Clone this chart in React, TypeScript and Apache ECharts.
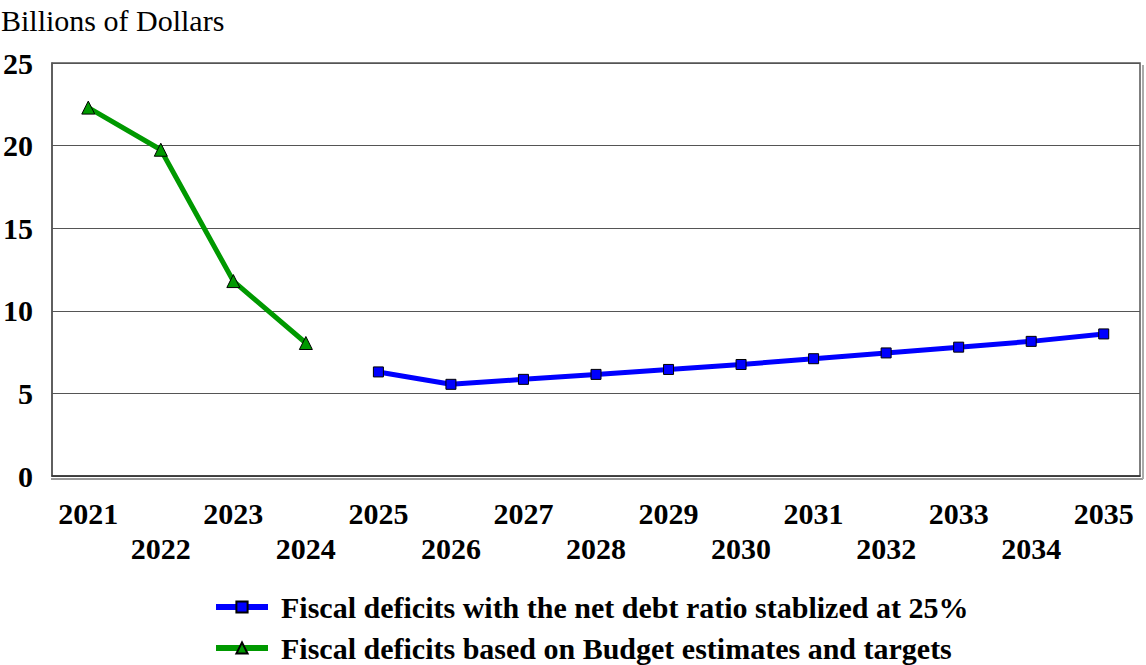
import React, { useEffect, useRef } from "react";
import * as echarts from "echarts";

const years = ["2021","2022","2023","2024","2025","2026","2027","2028","2029","2030","2031","2032","2033","2034","2035"];
const stabilized = [null, null, null, null, 6.3, 5.55, 5.85, 6.15, 6.45, 6.75, 7.1, 7.45, 7.8, 8.15, 8.6];
const budget = [22.3, 19.75, 11.8, 8.05, null, null, null, null, null, null, null, null, null, null, null];
const yTicks = [0, 5, 10, 15, 20, 25];
const seriesNames = [
  "Fiscal deficits with the net debt ratio stablized at 25%",
  "Fiscal deficits based on Budget estimates and targets",
];

const FONT = "'Liberation Serif', 'Times New Roman', serif";

const legendBase = {
  orient: "horizontal",
  left: 213,
  padding: 0,
  itemWidth: 52,
  itemHeight: 14,
  textStyle: { fontFamily: FONT, fontWeight: "bold", fontSize: 30, color: "#000", padding: [0, 0, 0, 8] },
};

export default function App() {
  const ref = useRef<HTMLDivElement>(null);
  useEffect(() => {
    const chart = echarts.init(ref.current!, null, { renderer: "svg" });
    chart.setOption({
      animation: false,
      backgroundColor: "#ffffff",
      title: {
        text: "Billions of Dollars",
        left: -4,
        top: 0,
        textStyle: { fontFamily: FONT, fontWeight: "normal", fontSize: 30, color: "#000" },
      },
      grid: { left: 51, right: 6, top: 63, bottom: 189, show: true, borderColor: "#555", borderWidth: 1.5 },
      xAxis: {
        type: "category",
        data: years,
        boundaryGap: true,
        axisLine: { show: true, lineStyle: { color: "#333", width: 1.5 } },
        axisTick: { show: false },
        axisLabel: {
          interval: 0,
          margin: 20,
          fontFamily: FONT,
          fontWeight: "bold",
          fontSize: 30,
          color: "#000",
          lineHeight: 35,
          formatter: (v: string, i: number) => (i % 2 === 1 ? "\n" + v : v + "\n"),
        },
      },
      yAxis: {
        type: "value",
        min: yTicks[0],
        max: yTicks[yTicks.length - 1],
        interval: 5,
        axisLine: { show: true, lineStyle: { color: "#555", width: 1.5 } },
        axisTick: { show: false },
        splitLine: { show: true, lineStyle: { color: "#555", width: 1 } },
        axisLabel: {
          margin: 19,
          fontFamily: FONT,
          fontWeight: "bold",
          fontSize: 30,
          color: "#000",
        },
      },
      legend: [
        { ...legendBase, top: 592, data: [{ name: seriesNames[0], lineStyle: { width: 6 } }] },
        { ...legendBase, top: 633, data: [{ name: seriesNames[1], lineStyle: { width: 6 } }] },
      ],
      graphic: [
        { type: "line", shape: { x1: 51, y1: 479, x2: 1143, y2: 479 }, style: { stroke: "#999", lineWidth: 2 } },
        { type: "line", shape: { x1: 1143, y1: 65, x2: 1143, y2: 479 }, style: { stroke: "#aaa", lineWidth: 2 } },
      ],
      series: [
        {
          name: seriesNames[0],
          type: "line",
          data: stabilized,
          connectNulls: false,
          lineStyle: { color: "#0000ff", width: 5 },
          itemStyle: { color: "#0000ff", borderColor: "#000", borderWidth: 1 },
          symbol: "rect",
          symbolSize: 10,
        },
        {
          name: seriesNames[1],
          type: "line",
          data: budget,
          connectNulls: false,
          lineStyle: { color: "#009900", width: 5 },
          itemStyle: { color: "#009900", borderColor: "#000", borderWidth: 1 },
          symbol: "triangle",
          symbolSize: 13,
        },
      ],
    });
    return () => chart.dispose();
  }, []);
  return <div ref={ref} style={{ position: "fixed", left: 0, top: 0, width: 1146, height: 665 }} />;
}
